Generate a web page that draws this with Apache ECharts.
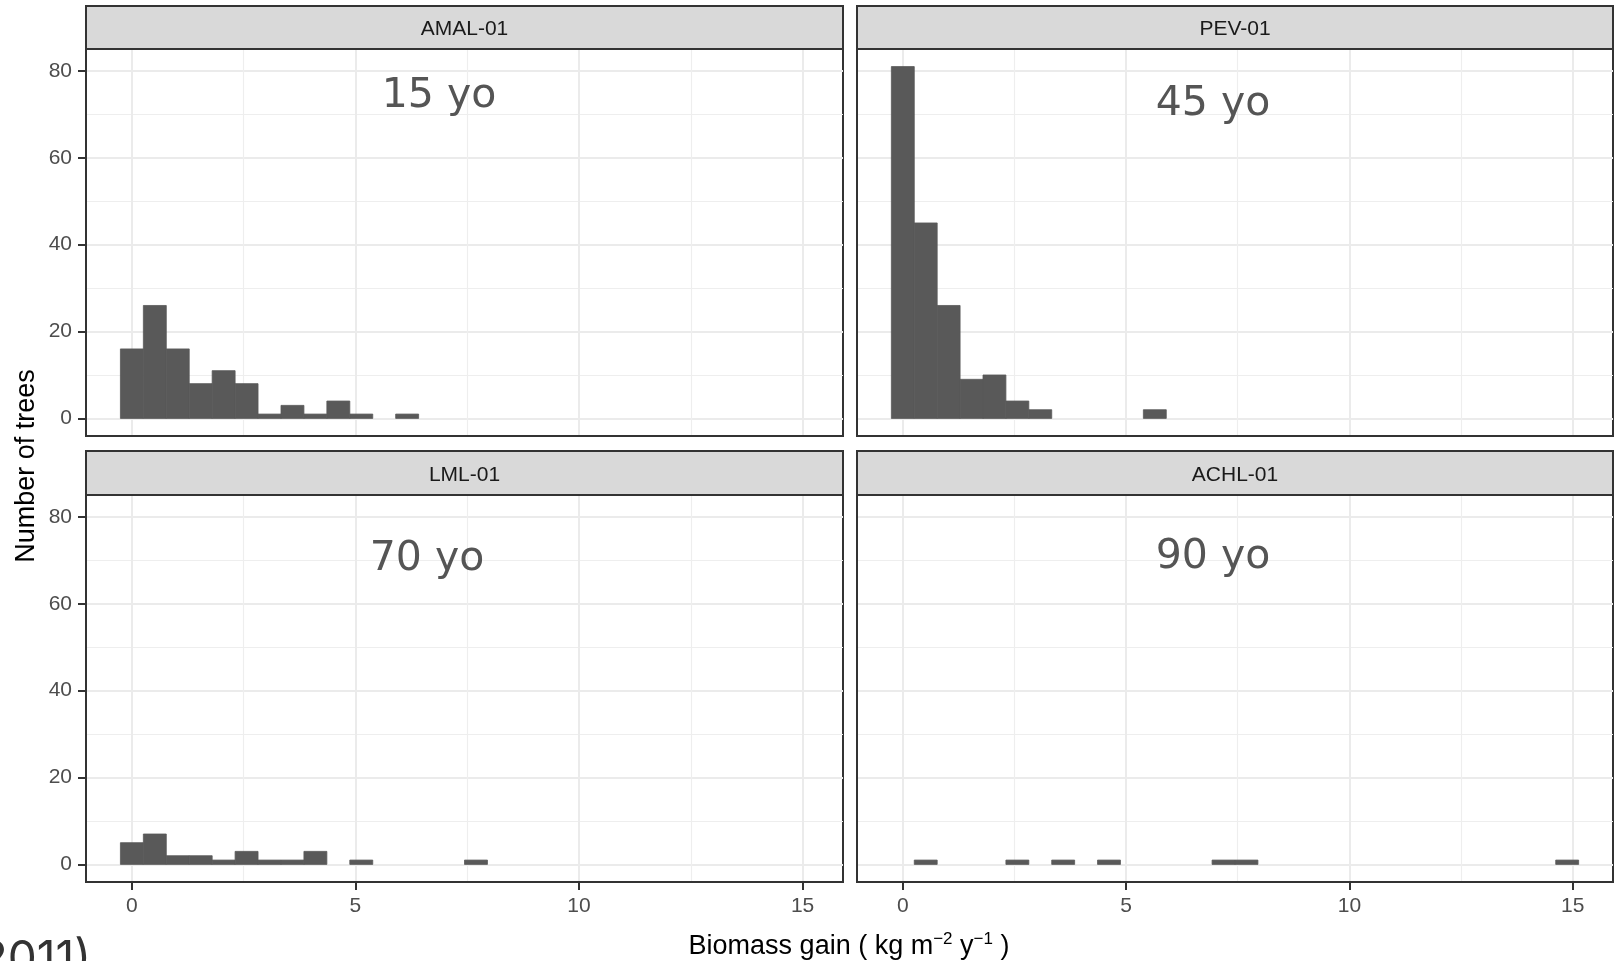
<!DOCTYPE html>
<html><head><meta charset="utf-8">
<script src="https://cdn.jsdelivr.net/npm/echarts@6/dist/echarts.min.js"></script>
<style>html,body{margin:0;padding:0;background:#fff}#c{width:1615px;height:961px}</style>
</head><body><div id="c"></div>
<script>
// ---- data ----
const sites = ['AMAL-01', 'PEV-01', 'LML-01', 'ACHL-01'];
const ageLabels = ['15 yo', '45 yo', '70 yo', '90 yo'];
const binWidth = 0.513;      // histogram bin width (kg m-2 y-1), bins centred on k*binWidth
const nBins = 30;
const countsAMAL = [16, 26, 16, 8, 11, 8, 1, 3, 1, 4, 1, 0, 1, 0, 0, 0, 0, 0, 0, 0, 0, 0, 0, 0, 0, 0, 0, 0, 0, 0];
const countsPEV  = [81, 45, 26, 9, 10, 4, 2, 0, 0, 0, 0, 2, 0, 0, 0, 0, 0, 0, 0, 0, 0, 0, 0, 0, 0, 0, 0, 0, 0, 0];
const countsLML  = [5, 7, 2, 2, 1, 3, 1, 1, 3, 0, 1, 0, 0, 0, 0, 1, 0, 0, 0, 0, 0, 0, 0, 0, 0, 0, 0, 0, 0, 0];
const countsACHL = [0, 1, 0, 0, 0, 1, 0, 1, 0, 1, 0, 0, 0, 0, 1, 1, 0, 0, 0, 0, 0, 0, 0, 0, 0, 0, 0, 0, 0, 1];
const xTicks = [0, 5, 10, 15];
const xMinorTicks = [2.5, 7.5, 12.5];
const yTicks = [0, 20, 40, 60, 80];
const yMinorTicks = [10, 30, 50, 70];
const xTitle = 'Biomass gain ( kg m{s|\u22122} y{s|\u22121} )';
const yTitle = 'Number of trees';
const sourceNote = '(2011)';

const allCounts = [countsAMAL, countsPEV, countsLML, countsACHL];

// ---- scales (ggplot-like 5% expansion) ----
const xLo = -binWidth / 2, xHi = (nBins - 0.5) * binWidth;
const xExp = 0.05 * (xHi - xLo);
const xMin = xLo - xExp, xMax = xHi + xExp;
const yMaxData = Math.max(...allCounts.flat());
const yMin = -0.05 * yMaxData, yMax = yMaxData * 1.05;

// ---- layout ----
const panels = [
  {left: 86, top: 49, width: 757, height: 387, stripTop: 6},
  {left: 857, top: 49, width: 756, height: 387, stripTop: 6},
  {left: 86, top: 495, width: 757, height: 387, stripTop: 451},
  {left: 857, top: 495, width: 756, height: 387, stripTop: 451}
];
const agePos = [[439, 96], [1213, 104], [427, 559], [1213, 557]];

const FONT = 'Liberation Sans';
const grids = [], xAxes = [], yAxes = [], series = [], graphics = [];
const edgeLine = {show: true, onZero: false, lineStyle: {color: '#333333', width: 2}};

panels.forEach((p, i) => {
  const bottomRow = i >= 2, leftCol = i % 2 === 0;
  grids.push({left: p.left, top: p.top, width: p.width, height: p.height,
    show: true, borderColor: '#333333', borderWidth: 2, backgroundColor: '#ffffff', containLabel: false});
  // major x axis
  xAxes.push({gridIndex: i, type: 'value', min: xMin, max: xMax, position: 'bottom',
    axisLine: edgeLine,
    axisTick: {show: bottomRow, inside: false, customValues: xTicks, length: 8, lineStyle: {color: '#333333', width: 2}},
    axisLabel: {show: bottomRow, customValues: xTicks, margin: 14, color: '#4D4D4D', fontSize: 21, fontFamily: FONT},
    splitLine: {show: true, lineStyle: {color: '#EBEBEB', width: 2}}
  });
  // minor x gridlines
  xAxes.push({gridIndex: i, type: 'value', min: xMin, max: xMax, position: 'top',
    axisLine: {show: false, onZero: false},
    axisTick: {show: false, customValues: xMinorTicks},
    axisLabel: {show: false, customValues: xMinorTicks},
    splitLine: {show: true, lineStyle: {color: '#EEEEEE', width: 1.2}}
  });
  yAxes.push({gridIndex: i, type: 'value', min: yMin, max: yMax, position: 'left',
    axisLine: edgeLine,
    axisTick: {show: leftCol, inside: false, customValues: yTicks, length: 8, lineStyle: {color: '#333333', width: 2}},
    axisLabel: {show: leftCol, customValues: yTicks, margin: 14, color: '#4D4D4D', fontSize: 21, fontFamily: FONT},
    splitLine: {show: true, lineStyle: {color: '#EBEBEB', width: 2}}
  });
  yAxes.push({gridIndex: i, type: 'value', min: yMin, max: yMax, position: 'right',
    axisLine: {show: false, onZero: false},
    axisTick: {show: false, customValues: yMinorTicks},
    axisLabel: {show: false, customValues: yMinorTicks},
    splitLine: {show: true, lineStyle: {color: '#EEEEEE', width: 1.2}}
  });
  const data = [];
  allCounts[i].forEach((c, k) => {
    if (c > 0) data.push([k * binWidth - binWidth / 2, k * binWidth + binWidth / 2, c]);
  });
  series.push({
    type: 'custom', name: sites[i], xAxisIndex: i * 2, yAxisIndex: i * 2,
    encode: {x: [0, 1], y: 2},
    data: data, z: 5,
    renderItem: function (params, api) {
      const a = api.coord([api.value(0), api.value(2)]);
      const b = api.coord([api.value(1), 0]);
      return {type: 'rect', shape: {x: a[0], y: a[1], width: b[0] - a[0], height: b[1] - a[1]},
        style: {fill: '#595959', stroke: '#595959', lineWidth: 0.8}};
    }
  });
  // facet strip
  graphics.push({type: 'rect', shape: {x: p.left, y: p.stripTop, width: p.width, height: p.top - p.stripTop},
    style: {fill: '#D9D9D9', stroke: '#333333', lineWidth: 2}, z: 10});
  graphics.push({type: 'text', x: p.left + p.width / 2, y: (p.stripTop + p.top) / 2 + 2,
    style: {text: sites[i], fill: '#1A1A1A', fontSize: 21, fontFamily: FONT, align: 'center', verticalAlign: 'middle'}, z: 11});
  // age annotation
  graphics.push({type: 'text', x: agePos[i][0], y: agePos[i][1],
    style: {text: ageLabels[i], fill: '#555555', fontSize: 41, fontFamily: 'DejaVu Sans', align: 'center', verticalAlign: 'middle'}, z: 11});
});

// axis titles
graphics.push({type: 'text', x: 849, y: 947,
  style: {text: xTitle, fill: '#000000', fontSize: 27, fontFamily: FONT, align: 'center', verticalAlign: 'middle',
    lineHeight: 32,
    rich: {s: {fontSize: 17, fontFamily: FONT, fill: '#000000', verticalAlign: 'top', lineHeight: 20}}}, z: 11});
graphics.push({type: 'text', x: 27, y: 466, rotation: Math.PI / 2,
  style: {text: yTitle, fill: '#000000', fontSize: 27, fontFamily: FONT, align: 'center', verticalAlign: 'middle'}, z: 11});
graphics.push({type: 'text', x: 91, y: 983,
  style: {text: sourceNote, fill: '#333333', fontSize: 46, fontFamily: 'Inter', align: 'right', verticalAlign: 'bottom'}, z: 11});

const chart = echarts.init(document.getElementById('c'), null, {renderer: 'canvas'});
chart.setOption({
  backgroundColor: '#ffffff',
  animation: false,
  grid: grids, xAxis: xAxes, yAxis: yAxes, series: series, graphic: graphics
});
</script></body></html>
